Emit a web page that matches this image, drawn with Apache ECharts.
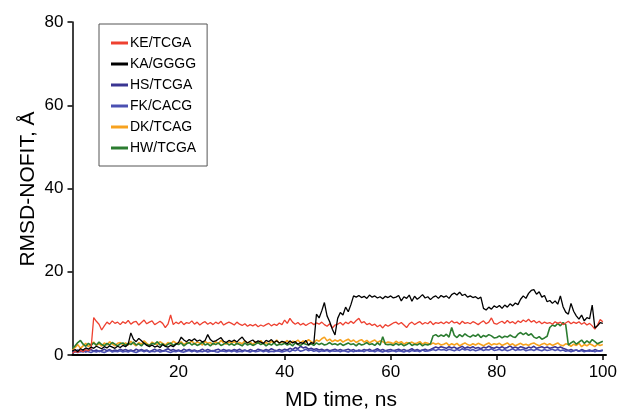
<!DOCTYPE html>
<html>
<head>
<meta charset="utf-8">
<script src="https://cdn.jsdelivr.net/npm/echarts@6/dist/echarts.min.js"></script>
<style>
  html, body { margin: 0; padding: 0; background: #fff; }
  #chart { width: 620px; height: 410px; }
</style>
</head>
<body>
<div id="chart"></div>
<script>
// RMSD (no fit) of six complexes over 100 ns of MD, sampled every 0.5 ns
const sampleStepNs = 0.5;

const keTcga = [
  0.4, 0.9, 0.6, 1.1, 0.8, 1.3, 1.0, 1.6, 9.0, 8.1, 7.4, 6.0, 7.0, 7.9, 7.4, 8.2, 7.6, 7.9, 7.3, 8.0,
  7.6, 8.3, 7.4, 7.9, 8.1, 7.2, 7.8, 8.4, 7.5, 7.9, 8.2, 7.3, 7.7, 8.1, 7.6, 6.6, 7.4, 9.6, 7.3, 7.9,
  7.5, 8.1, 7.3, 7.8, 7.6, 8.2, 7.4, 7.9, 7.2, 7.7, 8.0, 7.4, 7.8, 7.3, 7.9, 7.5, 8.1, 7.2, 7.6, 7.9,
  7.6, 7.2, 7.9, 7.4, 7.1, 7.5, 6.9, 7.3, 7.0, 7.4, 6.8, 7.2, 6.9, 7.3, 7.6, 7.0, 7.4, 7.1, 7.7, 7.3,
  8.4, 7.6, 8.8, 7.9, 7.4, 7.8, 7.2, 7.6, 7.1, 7.5, 7.8, 7.3, 7.7, 7.4, 7.9, 7.3, 6.9, 7.5, 6.5, 7.2,
  7.4, 7.8, 7.2, 7.9, 7.5, 8.1, 7.6, 8.3, 8.8, 7.7, 8.0, 7.3, 7.6, 7.1, 7.4, 6.8, 7.2, 6.5, 7.3, 6.9,
  7.3, 7.7, 7.9, 7.4, 7.8, 7.2, 6.6, 7.5, 7.9, 7.3, 7.7, 8.0, 7.4, 7.8, 7.5, 8.1, 7.3, 7.8, 7.6, 7.9,
  7.5, 8.0, 7.6, 8.2, 7.7, 7.9, 7.4, 8.1, 7.6, 7.8, 7.5, 8.0, 7.7, 7.3, 7.8, 8.2, 7.5, 7.9, 8.9, 7.6,
  7.4, 7.8, 8.1, 7.6, 8.3, 7.7, 8.0, 7.5, 8.2, 7.8, 8.4, 8.0, 8.6, 7.9, 8.3, 7.7, 8.1, 7.5, 7.9, 7.6,
  7.8, 7.4, 8.0, 7.6, 7.9, 7.3, 7.7, 8.1, 7.5, 7.9, 7.6, 8.0, 7.4, 7.8, 7.2, 7.6, 7.0, 6.2, 7.2, 8.5, 8.0
];

const kaGggg = [
  1.0, 1.3, 0.8, 1.5, 1.2, 1.7, 1.4, 1.9, 1.6, 2.1, 1.8, 1.5, 2.0, 1.7, 2.2, 1.9, 1.6, 2.1, 1.8, 2.3,
  2.0, 2.6, 5.3, 3.8, 3.2, 4.0, 3.4, 2.8, 2.3, 2.0, 2.4, 1.9, 2.2, 1.8, 2.5, 2.1, 1.9, 2.3, 2.0, 2.6,
  3.0, 4.3, 3.6, 3.2, 3.7, 3.4, 3.9, 3.3, 3.6, 3.1, 3.5, 4.9, 3.7, 3.2, 3.4, 3.8, 4.2, 3.3, 3.0, 3.5,
  3.2, 3.6, 3.1, 3.8, 4.3, 3.4, 2.9, 3.3, 3.6, 3.0, 3.4, 3.1, 2.8, 3.5, 3.2, 3.7, 3.0, 3.4, 2.9, 3.3,
  3.1, 2.7, 3.4, 2.9, 3.2, 2.6, 3.0, 2.8, 3.5, 2.4, 3.0, 2.7, 9.8, 8.9, 10.6, 12.6, 9.4, 8.0, 6.2, 4.8,
  8.8, 10.2, 9.6, 11.5, 10.4, 12.1, 14.2, 13.9, 14.3, 13.8, 14.1, 13.6, 14.4, 13.9, 14.2, 13.7, 14.0, 13.5, 14.1, 13.8,
  14.2, 13.7, 13.9, 14.3, 13.0, 14.0, 13.6, 14.4, 12.9, 14.1, 13.4, 13.9, 14.5, 13.7, 14.0, 13.3, 13.9, 14.2, 13.6, 14.3,
  13.9, 14.2, 13.6, 14.5, 14.9, 14.4, 15.1, 14.3, 14.6, 13.9, 14.2, 13.8, 14.0, 13.5, 13.9, 11.2, 10.8, 11.5, 11.0, 11.8,
  11.4, 11.9, 11.2, 12.0, 11.5, 12.3, 11.8, 12.5, 12.1, 13.4, 14.2, 13.6, 14.8, 15.5, 15.7, 14.6, 15.2, 13.9, 14.3, 12.8,
  13.1, 12.4, 13.0, 12.2, 14.2, 11.6, 10.3, 9.8, 12.4, 10.5, 9.4, 8.6, 9.6, 8.2, 9.0, 8.7, 12.0, 6.5, 7.0, 7.8, 7.6
];

const hsTcga = [
  0.6, 0.9, 1.2, 0.8, 1.1, 0.7, 1.0, 1.3, 0.9, 1.2, 0.8, 1.1, 1.4, 1.0, 1.3, 0.9, 1.2, 1.0, 1.4, 1.1,
  1.3, 1.0, 1.2, 0.9, 1.4, 1.1, 1.3, 1.0, 1.2, 0.8, 1.1, 1.4, 1.0, 1.3, 0.9, 1.2, 1.5, 1.1, 1.3, 1.0,
  1.2, 0.9, 1.4, 1.1, 1.3, 1.0, 1.2, 0.9, 1.1, 1.4, 1.0, 1.3, 1.1, 0.9, 1.2, 1.4, 1.0, 1.3, 1.1, 1.2,
  1.0, 1.3, 1.1, 1.4, 1.0, 1.2, 0.9, 1.3, 1.1, 1.0, 1.4, 1.2, 1.0, 1.3, 1.1, 1.5, 1.2, 1.0, 1.3, 1.1,
  1.4, 1.2, 1.6, 1.3, 1.8, 1.5, 2.1, 1.7, 1.9, 1.4, 1.6, 1.3, 1.5, 1.2, 1.4, 1.1, 1.3, 1.0, 1.2, 1.4,
  1.1, 1.3, 1.0, 1.2, 1.4, 1.1, 1.3, 0.9, 1.2, 1.0, 1.3, 1.1, 1.4, 1.0, 1.2, 1.5, 1.1, 1.3, 1.0, 1.2,
  1.3, 1.0, 1.2, 1.4, 1.1, 1.3, 1.0, 1.2, 1.5, 1.1, 1.3, 1.0, 1.2, 1.4, 1.1, 1.3, 1.6, 1.9, 1.7, 2.0,
  1.8, 1.6, 2.0, 1.7, 1.9, 1.5, 1.8, 2.1, 1.6, 1.9, 1.7, 2.0, 1.6, 1.8, 1.5, 1.9, 1.7, 2.1, 1.8, 1.6,
  1.9, 1.7, 2.0, 1.6, 1.8, 2.2, 1.7, 1.9, 1.6, 2.0, 1.8, 1.5, 1.9, 1.7, 2.1, 1.6, 1.8, 2.0, 1.7, 1.9,
  1.6, 1.8, 2.0, 1.7, 1.9, 1.6, 1.4, 1.1, 1.3, 1.0, 1.2, 0.9, 1.3, 1.1, 1.0, 1.2, 0.9, 1.3, 1.1, 1.0, 1.2
];

const fkCacg = [
  0.5, 0.8, 0.6, 0.9, 0.7, 1.0, 0.8, 0.6, 0.9, 0.7, 1.0, 0.8, 0.6, 0.9, 1.1, 0.7, 0.9, 0.8, 1.0, 0.7,
  0.9, 0.7, 1.0, 0.8, 0.6, 0.9, 1.1, 0.8, 1.0, 0.7, 0.9, 0.8, 1.1, 0.7, 0.9, 1.0, 0.8, 0.6, 0.9, 0.8,
  1.0, 0.8, 0.7, 0.9, 1.1, 0.8, 1.0, 0.7, 0.9, 0.8, 1.0, 0.7, 0.9, 1.1, 0.8, 0.7, 1.0, 0.9, 0.8, 1.0,
  0.8, 1.0, 0.7, 0.9, 0.8, 1.1, 0.9, 0.7, 1.0, 0.8, 0.9, 1.1, 0.8, 1.0, 0.7, 0.9, 0.8, 1.0, 0.9, 0.7,
  0.9, 1.1, 0.8, 1.2, 1.0, 1.3, 0.9, 1.1, 1.4, 1.0, 1.2, 0.9, 1.1, 0.8, 1.0, 0.9, 1.1, 0.8, 1.0, 0.9,
  1.0, 0.8, 1.1, 0.9, 0.7, 1.0, 0.8, 1.1, 0.9, 1.0, 0.8, 1.2, 0.9, 1.0, 0.8, 1.1, 0.9, 0.7, 1.0, 0.8,
  0.9, 1.1, 0.8, 1.0, 0.9, 0.7, 1.0, 0.8, 1.1, 0.9, 1.0, 0.8, 1.2, 0.9, 1.0, 1.1, 1.3, 1.1, 1.4, 1.2,
  1.3, 1.1, 1.4, 1.2, 1.0, 1.3, 1.1, 1.5, 1.2, 1.4, 1.1, 1.3, 1.0, 1.2, 1.4, 1.1, 1.3, 1.2, 1.5, 1.1,
  1.2, 1.4, 1.1, 1.3, 1.0, 1.2, 1.5, 1.1, 1.3, 1.2, 1.4, 1.0, 1.2, 1.3, 1.1, 1.4, 1.2, 1.0, 1.3, 1.1,
  1.2, 1.4, 1.1, 1.3, 1.0, 1.2, 0.9, 1.1, 0.8, 1.0, 1.2, 0.9, 1.1, 0.8, 1.0, 0.9, 1.1, 0.8, 1.0, 0.9, 1.1
];

const dkTcag = [
  1.2, 1.8, 2.5, 1.6, 2.2, 2.8, 2.0, 2.6, 3.1, 2.3, 2.7, 2.1, 2.9, 2.4, 3.2, 2.6, 2.2, 2.8, 3.0, 2.5,
  2.9, 2.4, 3.3, 2.7, 2.2, 3.0, 2.6, 3.4, 2.8, 2.3, 3.1, 2.7, 2.5, 3.2, 2.8, 2.4, 3.0, 2.6, 3.3, 2.9,
  2.7, 3.2, 2.5, 3.0, 2.8, 3.4, 2.6, 3.1, 2.9, 2.4, 3.3, 2.8, 3.0, 2.5, 3.2, 2.7, 3.5, 2.9, 2.6, 3.1,
  2.8, 3.3, 2.6, 3.0, 2.7, 3.4, 2.9, 3.1, 2.5, 3.2, 2.8, 3.5, 2.7, 3.0, 2.6, 3.3, 2.9, 3.6, 2.8, 3.2,
  3.0, 3.5, 2.8, 3.3, 3.1, 3.6, 2.9, 3.4, 3.0, 3.7, 3.2, 2.9, 3.6, 3.3, 3.9, 4.3, 3.4, 3.8, 3.2, 3.6,
  3.3, 3.7, 3.1, 3.5, 3.8, 3.2, 3.6, 3.0, 3.4, 3.7, 3.1, 3.5, 2.9, 3.3, 3.6, 3.0, 3.4, 3.2, 2.8, 3.1,
  3.0, 2.7, 3.3, 2.9, 3.2, 2.6, 3.0, 2.8, 3.1, 2.7, 2.9, 3.2, 2.6, 3.0, 2.8, 2.5, 2.9, 2.6, 2.8, 2.4,
  2.6, 2.9, 2.3, 2.7, 2.4, 2.8, 2.2, 2.6, 2.9, 2.5, 2.3, 2.7, 2.4, 2.8, 2.5, 2.2, 2.6, 2.9, 2.4, 2.7,
  2.5, 2.8, 2.3, 2.6, 2.9, 2.4, 2.7, 2.2, 2.5, 2.8, 2.4, 2.6, 2.3, 2.7, 2.9, 2.5, 2.2, 2.6, 2.8, 2.4,
  2.7, 2.3, 2.6, 2.9, 2.4, 2.2, 2.7, 2.5, 2.1, 2.6, 2.3, 2.8, 2.0, 2.5, 2.2, 2.7, 2.4, 2.0, 2.6, 2.3, 2.5
];

const hwTcga = [
  1.6, 2.2, 3.0, 3.5, 2.6, 2.1, 2.8, 2.3, 2.9, 2.4, 3.1, 2.5, 2.2, 2.8, 2.4, 3.0, 2.6, 2.2, 2.7, 2.9,
  2.3, 2.8, 2.5, 3.1, 2.4, 2.7, 2.2, 2.9, 2.5, 2.3, 2.8, 2.6, 3.2, 2.4, 2.7, 2.1, 2.6, 2.9, 2.3, 2.7,
  2.5, 2.9, 2.2, 2.7, 3.0, 2.4, 2.8, 2.3, 2.6, 3.1, 2.4, 2.7, 2.2, 2.8, 2.5, 2.9, 2.3, 2.6, 3.0, 2.4,
  2.7, 2.3, 2.8, 2.5, 2.2, 2.9, 2.4, 2.7, 2.3, 2.6, 3.0, 2.5, 2.8, 2.2, 2.7, 2.4, 2.9, 2.3, 2.6, 2.5,
  2.8, 2.4, 2.7, 2.2, 2.9, 2.5, 2.3, 2.8, 2.6, 2.4, 2.7, 2.3, 2.9, 2.5, 2.8, 2.4, 2.6, 3.0, 2.5, 2.7,
  2.4, 2.8, 2.3, 2.6, 2.9, 2.5, 2.7, 2.2, 2.8, 2.4, 2.6, 3.0, 2.5, 2.7, 2.3, 2.9, 2.4, 4.4, 2.6, 2.5,
  2.6, 2.3, 2.8, 2.4, 2.7, 2.2, 2.5, 2.9, 2.3, 2.6, 2.4, 2.8, 2.2, 2.6, 2.4, 2.7, 4.6, 4.9, 4.4, 4.8,
  4.5, 5.0, 4.3, 6.6, 4.7, 4.2, 4.9, 4.4, 5.1, 4.6, 4.3, 4.8, 4.5, 5.0, 4.2, 4.7, 4.4, 4.9, 4.6, 4.1,
  4.2, 4.6, 4.1, 4.5, 4.3, 4.8, 4.4, 4.2, 5.0, 5.4, 4.9, 5.3, 4.7, 5.1, 4.3, 4.0, 4.4, 3.8, 4.1, 4.5,
  6.6, 7.2, 6.9, 7.6, 7.0, 7.8, 7.3, 2.4, 2.9, 3.3, 2.6, 3.1, 3.6, 2.8, 3.4, 2.9, 3.7, 3.2, 2.7, 3.0, 3.3
];

const legendOrder = ['KE/TCGA', 'KA/GGGG', 'HS/TCGA', 'FK/CACG', 'DK/TCAG', 'HW/TCGA'];
const xTickValues = [20, 40, 60, 80, 100];
const yTickValues = [0, 20, 40, 60, 80];
const xTitle = 'MD time, ns';
const yTitle = 'RMSD-NOFIT, Å';

// drawing order: low-lying traces first, KA/GGGG on top
const traces = [
  { name: 'HS/TCGA', values: hsTcga, color: '#3a3592', width: 1.6 },
  { name: 'FK/CACG', values: fkCacg, color: '#4b50b2', width: 1.6 },
  { name: 'DK/TCAG', values: dkTcag, color: '#f7a21f', width: 1.6 },
  { name: 'HW/TCGA', values: hwTcga, color: '#2b7c30', width: 1.6 },
  { name: 'KE/TCGA', values: keTcga, color: '#ee4130', width: 1.3 },
  { name: 'KA/GGGG', values: kaGggg, color: '#000000', width: 1.3 }
];

const font = "'Liberation Sans', Arial, Helvetica, sans-serif";
const chart = echarts.init(document.getElementById('chart'), null, { renderer: 'canvas' });

chart.setOption({
  animation: false,
  backgroundColor: '#ffffff',
  grid: { left: 72.5, right: 12, top: 22, bottom: 55, containLabel: false },
  legend: {
    data: legendOrder,
    orient: 'vertical',
    left: 99,
    top: 24,
    padding: [12, 11, 11, 12],
    itemWidth: 17,
    itemHeight: 14,
    itemGap: 7,
    // short flat bar as the key for each trace
    icon: 'path://M0 0H17V3H0Z',
    borderColor: '#555555',
    borderWidth: 1,
    backgroundColor: '#ffffff',
    textStyle: { fontFamily: font, fontSize: 14, color: '#000', padding: [0, 0, 0, -3] }
  },
  // axis titles, placed beside the plot frame
  graphic: [
    {
      type: 'text', x: 341, y: 400, silent: true,
      style: { text: xTitle, fontFamily: font, fontSize: 21, fill: '#000', align: 'center', verticalAlign: 'middle' }
    },
    {
      type: 'text', x: 28, y: 189, rotation: Math.PI / 2, silent: true,
      style: { text: yTitle, fontFamily: font, fontSize: 21, fill: '#000', align: 'center', verticalAlign: 'middle' }
    }
  ],
  xAxis: {
    type: 'value',
    min: 0,
    max: 100.6,
    axisLine: { show: true, onZero: false, lineStyle: { color: '#000', width: 2 } },
    axisTick: { show: true, length: 5, lineStyle: { color: '#000', width: 1.5 }, customValues: xTickValues },
    axisLabel: { fontFamily: font, fontSize: 17, color: '#000', margin: 9, customValues: xTickValues },
    splitLine: { show: false }
  },
  yAxis: {
    type: 'value',
    min: 0,
    max: 80,
    interval: 20,
    axisLine: { show: true, lineStyle: { color: '#000', width: 1.5 } },
    axisTick: { show: true, length: 5, lineStyle: { color: '#000', width: 1.5 }, customValues: yTickValues },
    axisLabel: { fontFamily: font, fontSize: 17, color: '#000', margin: 9, customValues: yTickValues },
    splitLine: { show: false }
  },
  series: traces.map(t => ({
    name: t.name,
    type: 'line',
    showSymbol: false,
    symbol: 'none',
    color: t.color,
    lineStyle: { width: t.width, color: t.color },
    clip: true,
    data: t.values.map((v, i) => [i * sampleStepNs, v])
  }))
});
</script>
</body>
</html>
